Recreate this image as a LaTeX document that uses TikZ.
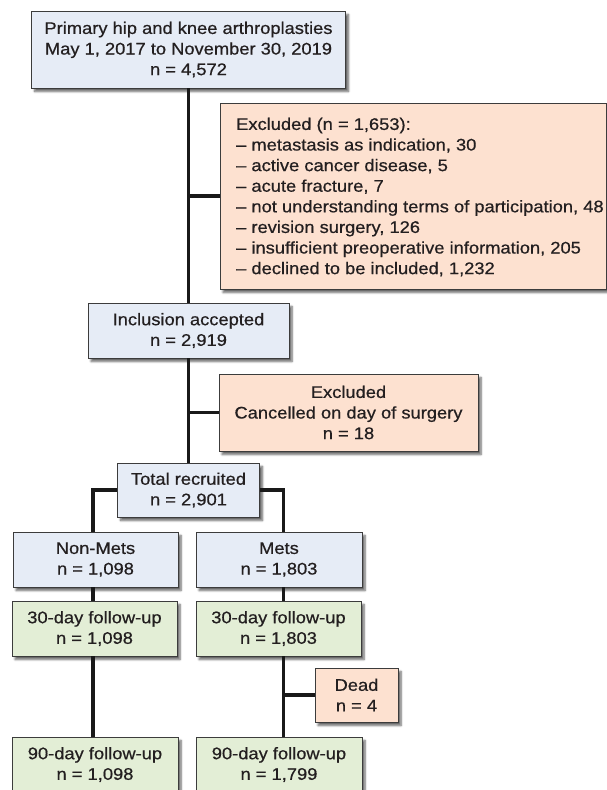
\documentclass[tikz,border=0pt]{standalone}
\usepackage{fontspec}
\setmainfont[FakeStretch=1.09,FakeBold=0.6]{Liberation Sans}
\usetikzlibrary{shadows.blur}
\definecolor{bluefill}{HTML}{E6ECF6}
\definecolor{orangefill}{HTML}{FDE1D0}
\definecolor{greenfill}{HTML}{E3EED6}
\definecolor{boxline}{HTML}{3C3C3C}
\definecolor{txt}{HTML}{231F20}
\begin{document}
\begin{tikzpicture}[x=1pt,y=-1pt,
  font=\fontsize{16.8}{20.6}\selectfont,
  box/.style={draw=boxline, line width=0.9pt, text=txt, align=center, inner sep=0pt,
    blur shadow={shadow xshift=3pt, shadow yshift=-3.5pt, shadow blur steps=6, shadow opacity=60}},
  bluebox/.style={box, fill=bluefill},
  orangebox/.style={box, fill=orangefill},
  greenbox/.style={box, fill=greenfill},
  conn/.style={line width=3.2pt, draw=black!90}]
\useasboundingbox (0,0) rectangle (607,790);
\coordinate (mx) at (188.5,0);
\coordinate (lx) at (93,0);
\coordinate (rx) at (283.5,0);
% main column
\node[bluebox, minimum width=314pt, minimum height=77pt] (b1) at (188.5,49.5)
  {Primary hip and knee arthroplasties\\May 1, 2017 to November 30, 2019\\n = 4,572};
\node[orangebox, minimum width=386pt, minimum height=186pt] (e1) at (413,196) {};
\node[anchor=west, align=left, inner sep=0pt, text=txt] (e1t) at (236,197)
  {Excluded (n = 1,653):\\
   – metastasis as indication, 30\\
   – active cancer disease, 5\\
   – acute fracture, 7\\
   – not understanding terms of participation, 48\\
   – revision surgery, 126\\
   – insufficient preoperative information, 205\\
   – declined to be included, 1,232};
\node[bluebox, minimum width=201pt, minimum height=55pt] (b2) at (188.5,330.5)
  {Inclusion accepted\\n = 2,919};
\node[orangebox, minimum width=259pt, minimum height=77pt] (e2) at (348.5,412.5)
  {Excluded\\Cancelled on day of surgery\\n = 18};
\node[bluebox, minimum width=142pt, minimum height=54pt] (b3) at (188.5,490)
  {Total recruited\\n = 2,901};
% branches
\node[bluebox, minimum width=165pt, minimum height=55pt] (nm) at (95.5,559.5)
  {Non-Mets\\n = 1,098};
\node[bluebox, minimum width=166pt, minimum height=55pt] (me) at (279,559.5)
  {Mets\\n = 1,803};
\node[greenbox, minimum width=165pt, minimum height=55pt] (l30) at (94.5,628.5)
  {30-day follow-up\\n = 1,098};
\node[greenbox, minimum width=165pt, minimum height=55pt] (r30) at (278.5,628.5)
  {30-day follow-up\\n = 1,803};
\node[orangebox, minimum width=83pt, minimum height=54pt] (dead) at (356.5,695)
  {Dead\\n = 4};
\node[greenbox, minimum width=166pt, minimum height=55pt] (l90) at (95,764.5)
  {90-day follow-up\\n = 1,098};
\node[greenbox, minimum width=166pt, minimum height=55pt] (r90) at (279,764.5)
  {90-day follow-up\\n = 1,799};
% connectors
\draw[conn] (b1.south) -- (b2.north);
\draw[conn] (e1.west -| mx) -- (e1.west);
\draw[conn] (b2.south) -- (b3.north);
\draw[conn] (e2.west -| mx) -- (e2.west);
\draw[conn] (b3.west) -| (nm.north -| lx);
\draw[conn] (b3.east) -| (me.north -| rx);
\draw[conn] (nm.south -| lx) -- (l30.north -| lx);
\draw[conn] (l30.south -| lx) -- (l90.north -| lx);
\draw[conn] (me.south -| rx) -- (r30.north -| rx);
\draw[conn] (r30.south -| rx) -- (r90.north -| rx);
\draw[conn] (dead.west -| rx) -- (dead.west);
\end{tikzpicture}
\end{document}
